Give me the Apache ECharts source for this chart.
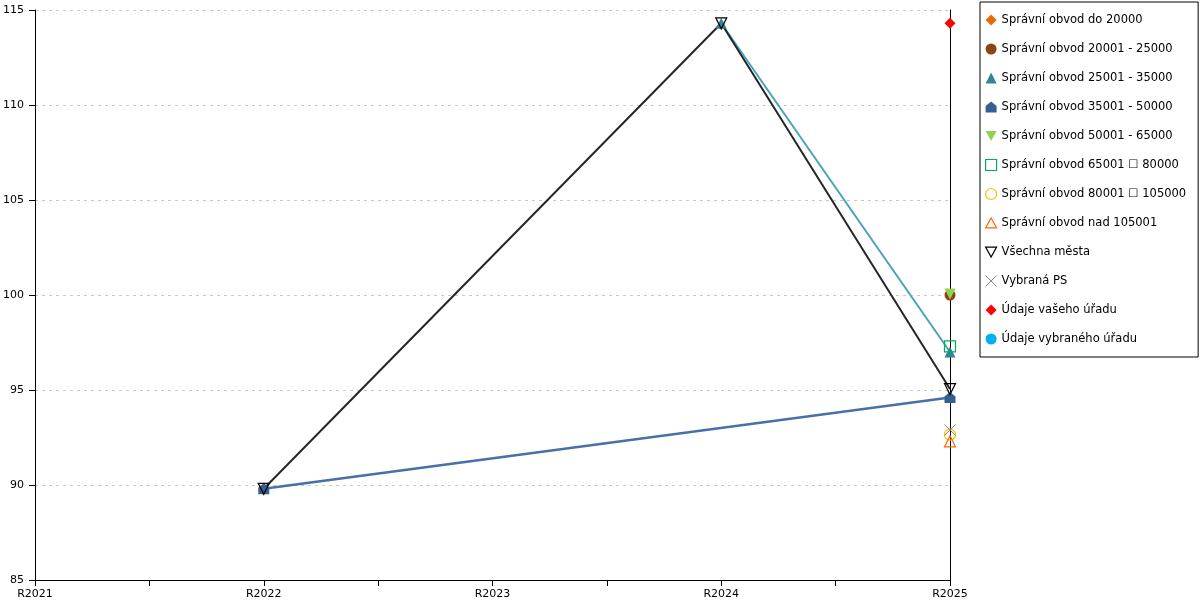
<!DOCTYPE html>
<html>
<head>
<meta charset="utf-8">
<script src="https://cdn.jsdelivr.net/npm/echarts@6/dist/echarts.min.js"></script>
<style>html,body{margin:0;padding:0;background:#fff}#c{width:1200px;height:600px}</style>
</head>
<body>
<div id="c"></div>
<script>
const categories = ['R2021', 'R2022', 'R2023', 'R2024', 'R2025'];
const seriesNames = [
  'Správní obvod do 20000',
  'Správní obvod 20001 - 25000',
  'Správní obvod 25001 - 35000',
  'Správní obvod 35001 - 50000',
  'Správní obvod 50001 - 65000',
  'Správní obvod 65001 \u2610 80000',
  'Správní obvod 80001 \u2610 105000',
  'Správní obvod nad 105001',
  'Všechna města',
  'Vybraná PS',
  'Údaje vašeho úřadu',
  'Údaje vybraného úřadu'
];
const valsDo20000    = [null, null, null, null, null];
const vals20001      = [null, null, null, null, 100.0];
const vals25001      = [null, null, null, 114.3, 97.0];
const vals35001      = [null, 89.8, null, null, 94.6];
const vals50001      = [null, null, null, null, 100.05];
const vals65001      = [null, null, null, null, 97.3];
const vals80001      = [null, null, null, null, 92.65];
const valsNad105001  = [null, null, null, null, 92.3];
const valsVsechna    = [null, 89.8, null, 114.3, 95.05];
const valsVybranaPS  = [null, null, null, null, 92.9];
const valsVasUrad    = [null, null, null, null, 114.3];
const valsVybranyUrad= [null, null, null, null, null];
const yTicks = [85, 90, 95, 100, 105, 110, 115];

const HOUSE = 'path://M0,4 L5,0 L10,4 L10,10 L0,10 Z';
const INV_TRI = 'path://M0,0 L10,0 L5,9 Z';
const SQUARE = 'path://M0,0 L10,0 L10,10 L0,10 Z';
const TRI = 'path://M5,0 L10,9 L0,9 Z';
const CROSS = 'path://M0,0 L10,10 M10,0 L0,10';
const RING = 'path://M5,0 A5,5 0 1 1 4.99,0 Z';

function pts(arr) {
  const out = [];
  arr.forEach((v, i) => { if (v !== null) out.push([i, v]); });
  return out;
}

const styles = [
  { data: valsDo20000, symbol: 'diamond', item: { color: '#E36C09' } },
  { data: vals20001, symbol: 'circle', item: { color: '#8B4513' } },
  { data: vals25001, symbol: 'triangle', item: { color: '#31849B' }, line: { color: '#4BA3BB', width: 2 } },
  { data: vals35001, symbol: HOUSE, item: { color: '#365F91' }, line: { color: '#4870A6', width: 2.5 } },
  { data: vals50001, symbol: INV_TRI, item: { color: '#92D050' } },
  { data: vals65001, symbol: SQUARE, item: { color: 'rgba(0,0,0,0)', borderColor: '#00B050', borderWidth: 1.2 } },
  { data: vals80001, symbol: RING, item: { color: 'rgba(0,0,0,0)', borderColor: '#FFC000', borderWidth: 1.2 } },
  { data: valsNad105001, symbol: TRI, item: { color: 'rgba(0,0,0,0)', borderColor: '#FF6600', borderWidth: 1.2 } },
  { data: valsVsechna, symbol: INV_TRI, item: { color: 'rgba(0,0,0,0)', borderColor: '#000', borderWidth: 1.2 }, line: { color: '#262626', width: 2 } },
  { data: valsVybranaPS, symbol: CROSS, item: { color: 'rgba(0,0,0,0)', borderColor: '#808080', borderWidth: 1 } },
  { data: valsVasUrad, symbol: 'diamond', item: { color: '#FF0000' } },
  { data: valsVybranyUrad, symbol: 'circle', item: { color: '#00B0F0' } }
];

const series = styles.map((s, i) => ({
  name: seriesNames[i],
  type: 'line',
  data: pts(s.data),
  symbol: s.symbol,
  symbolSize: 11,
  showAllSymbol: true,
  connectNulls: true,
  itemStyle: s.item,
  lineStyle: s.line ? s.line : { width: 0, opacity: 0 },
  emphasis: { disabled: true },
  animation: false,
  yAxisIndex: 0
}));

const font = 'DejaVu Sans, Verdana, sans-serif';
const chart = echarts.init(document.getElementById('c'), null, { renderer: 'canvas' });
chart.setOption({
  animation: false,
  backgroundColor: '#fff',
  grid: { left: 35, right: 250, top: 10, bottom: 20, containLabel: false },
  xAxis: {
    type: 'value', min: 0, max: categories.length - 1, interval: 0.5,
    axisLine: { show: true, lineStyle: { color: '#000', width: 1 } },
    axisTick: { show: true, length: 6, lineStyle: { color: '#000' } },
    splitLine: { show: false },
    axisLabel: {
      color: '#000', fontSize: 11, fontFamily: font, margin: 9,
      showMinLabel: true, showMaxLabel: true,
      formatter: v => (Number.isInteger(v) ? categories[v] : '')
    }
  },
  yAxis: [{
    type: 'value', min: yTicks[0], max: yTicks[yTicks.length - 1], interval: 5,
    axisLine: { show: true, lineStyle: { color: '#000', width: 1 } },
    axisTick: { show: true, length: 6, lineStyle: { color: '#000' } },
    splitLine: { show: true, lineStyle: { color: '#c8c8c8', type: [3, 4], width: 1 } },
    axisLabel: { color: '#000', fontSize: 11, fontFamily: font, margin: 11 }
  }, {
    type: 'value', position: 'right', min: yTicks[0], max: yTicks[yTicks.length - 1], interval: 5,
    axisLine: { show: true, onZero: false, lineStyle: { color: '#000', width: 1 } },
    axisTick: { show: false }, axisLabel: { show: false }, splitLine: { show: false }
  }],
  legend: {
    orient: 'vertical', left: 980, top: 2,
    padding: [11, 12, 11, 5],
    itemWidth: 11, itemHeight: 11, itemGap: 15,
    borderColor: '#000', borderWidth: 1, backgroundColor: '#fff',
    textStyle: { color: '#000', fontSize: 11.5, fontFamily: font, lineHeight: 14 },
    selectedMode: false,
    data: seriesNames.map((n, i) => ({
      name: n, icon: styles[i].symbol,
      itemStyle: { borderWidth: styles[i].item.borderWidth || 0 }
    }))
  },
  series: series
});
</script>
</body>
</html>
